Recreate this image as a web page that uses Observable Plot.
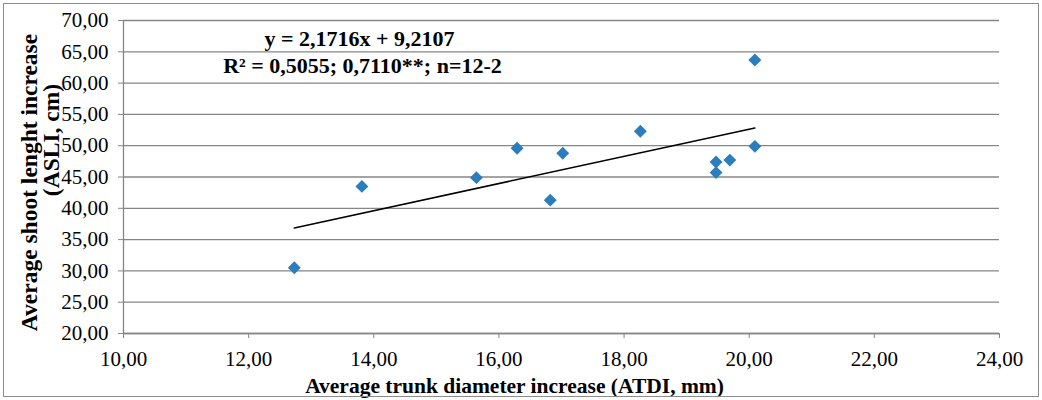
<!DOCTYPE html>
<html>
<head>
<meta charset="utf-8">
<script src="https://cdn.jsdelivr.net/npm/d3@7"></script>
<script src="https://cdn.jsdelivr.net/npm/@observablehq/plot@0.6"></script>
<style>
  html, body { margin: 0; padding: 0; background: #fff; }
  #wrap { position: relative; width: 1042px; height: 400px; }
  #border { position: absolute; left: 3px; top: 3px; width: 1036px; height: 394px; border: 1px solid #8c8c8c; box-sizing: border-box; pointer-events: none; }
  #wrap svg text, #wrap svg g { font-family: "Liberation Serif", "Times New Roman", "DejaVu Serif", serif !important; }
</style>
</head>
<body>
<div id="wrap"><div id="border"></div></div>
<script>
// Data
const atdi = [12.73, 13.81, 15.64, 16.29, 16.82, 17.02, 18.26, 19.47, 19.47, 19.69, 20.09, 20.09];
const asli = [30.5, 43.5, 44.9, 49.6, 41.3, 48.8, 52.3, 47.4, 45.7, 47.7, 49.9, 63.7];
const xTicks = [10, 12, 14, 16, 18, 20, 22, 24];
const yTicks = [20, 25, 30, 35, 40, 45, 50, 55, 60, 65, 70];
const slope = 2.1716;
const intercept = 9.2107;
const eqLabel = "y = 2,1716x + 9,2107";
const r2Label = "R² = 0,5055; 0,7110**; n=12-2";
const xTitle = "Average trunk diameter increase (ATDI, mm)";
const yTitle1 = "Average shoot lenght increase";
const yTitle2 = "(ASLI, cm)";

const points = atdi.map((x, i) => ({x, y: asli[i]}));
const xmin = d3.min(atdi), xmax = d3.max(atdi);
const trend = [xmin, xmax].map(x => ({x, y: slope * x + intercept}));
const fmt = v => v.toFixed(2).replace(".", ",");
const grey = "#868686";
const serif = "Liberation Serif";

const chart = Plot.plot({
  width: 1042,
  height: 400,
  marginLeft: 123,
  marginRight: 43,
  marginTop: 20,
  marginBottom: 67,
  style: {fontFamily: serif, fontSize: "21px", color: "#000", background: "transparent"},
  x: {domain: [10, 24]},
  y: {domain: [20, 70]},
  marks: [
    Plot.gridY(yTicks, {stroke: grey, strokeOpacity: 1, strokeWidth: 1.3}),
    Plot.ruleX([10], {stroke: grey, strokeWidth: 1.3}),
    Plot.ruleY([20], {stroke: grey, strokeWidth: 1.3}),
    Plot.axisY(yTicks, {tickFormat: fmt, tickSize: 5, tickPadding: 10, stroke: grey, fill: "#000", label: null, fontFamily: serif, fontSize: 21, fontVariant: "normal"}),
    Plot.axisX(xTicks, {tickFormat: fmt, tickSize: 5, tickPadding: 13, stroke: grey, fill: "#000", label: null, fontFamily: serif, fontSize: 21, fontVariant: "normal"}),
    Plot.line(trend, {x: "x", y: "y", stroke: "#000", strokeWidth: 1.5}),
    Plot.dot(points, {x: "x", y: "y", symbol: "diamond2", r: 5.8, fill: "#2a7dbf", stroke: "none"}),
    Plot.text([eqLabel], {frameAnchor: "top-left", dx: 236, dy: 18, textAnchor: "middle", lineAnchor: "middle", fontWeight: "bold", fontSize: 22, fontFamily: serif}),
    Plot.text([r2Label], {frameAnchor: "top-left", dx: 239, dy: 45, textAnchor: "middle", lineAnchor: "middle", fontWeight: "bold", fontSize: 22, fontFamily: serif}),
    Plot.text([xTitle], {frameAnchor: "bottom", dx: -47, dy: 53, textAnchor: "middle", lineAnchor: "middle", fontWeight: "bold", fontSize: 21.5, fontFamily: serif}),
    Plot.text([yTitle1], {frameAnchor: "left", dx: -94, dy: 5.5, rotate: -90, textAnchor: "middle", lineAnchor: "middle", fontWeight: "bold", fontSize: 23.5, fontFamily: serif}),
    Plot.text([yTitle2], {frameAnchor: "left", dx: -72, dy: -37, rotate: -90, textAnchor: "middle", lineAnchor: "middle", fontWeight: "bold", fontSize: 23.5, fontFamily: serif})
  ]
});
document.getElementById("wrap").appendChild(chart);
</script>
</body>
</html>
